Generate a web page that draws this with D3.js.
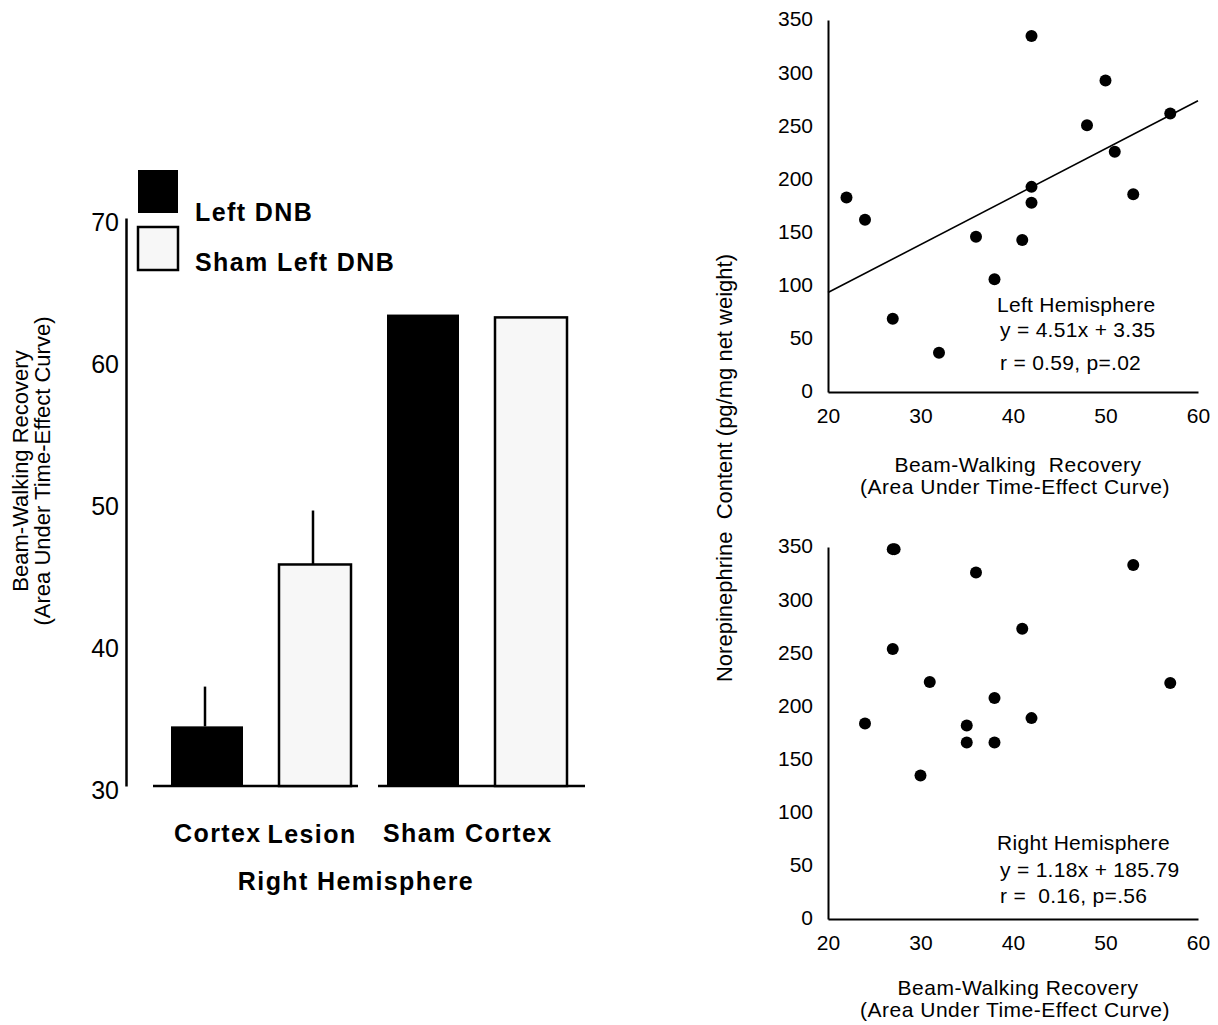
<!DOCTYPE html>
<html>
<head>
<meta charset="utf-8">
<script src="https://cdn.jsdelivr.net/npm/d3@7"></script>
<style>
  body { margin: 0; background: #fff; }
  svg text { font-family: "Liberation Sans", Arial, Helvetica, sans-serif; fill: #000; }
</style>
</head>
<body>
<div id="chart"></div>
<script>
// bar chart data
const barGroups = ["Cortex Lesion", "Sham Cortex"];
const barSeries = ["Left DNB", "Sham Left DNB"];
const barMeans = [34.2, 45.6, 63.2, 63.0];
const barErrors = [2.8, 3.8, 0, 0];
const barTicks = [30, 40, 50, 60, 70];

// scatter data
const leftX = [22, 24, 27, 32, 36, 38, 41, 42, 42, 42, 48, 50, 51, 53, 57];
const leftY = [183, 162, 69, 37, 146, 106, 143, 335, 193, 178, 251, 293, 226, 186, 262];
const rightX = [24, 27, 27.2, 27, 30, 31, 35, 35, 36, 38, 38, 41, 42, 53, 57];
const rightY = [184, 348, 348, 254, 135, 223, 182, 166, 326, 208, 166, 273, 189, 333, 222];
const leftFit = [4.51, 3.35];
const leftNotes = ["Left Hemisphere", "y = 4.51x + 3.35", "r = 0.59, p=.02"];
const rightNotes = ["Right Hemisphere", "y = 1.18x + 185.79", "r =  0.16, p=.56"];
const scatterXTicks = [20, 30, 40, 50, 60];
const scatterYTicks = [0, 50, 100, 150, 200, 250, 300, 350];
const xTitles = [["Beam-Walking  Recovery", "(Area Under Time-Effect Curve)"],
                 ["Beam-Walking Recovery", "(Area Under Time-Effect Curve)"]];

const width = 1218, height = 1025;
const svg = d3.select("#chart").append("svg")
    .attr("width", width)
    .attr("height", height);

// ---------- bar chart ----------
const barKeys = d3.range(barMeans.length);
const xBar = d3.scaleBand()
    .domain(barKeys)
    .range([153, 585])
    .paddingInner(1 / 3)
    .paddingOuter(1 / 6);
const yBar = d3.scaleLinear().domain([30, 70]).range([786, 218]);

const yAxisBar = svg.append("g")
    .attr("transform", "translate(126,0)")
    .call(d3.axisLeft(yBar).tickValues(barTicks).tickSize(0).tickPadding(7));
yAxisBar.select(".domain").attr("stroke", "#000").attr("stroke-width", 2.5);
yAxisBar.selectAll("text")
    .attr("dy", "0.48em")
    .style("font-size", "25px")
    .style("font-family", "'Liberation Sans', Arial, sans-serif");

// group baselines
barGroups.forEach((g, i) => {
    const first = xBar(i * 2), last = xBar(i * 2 + 1) + xBar.bandwidth();
    const x0 = i === 0 ? xBar.range()[0] : first - 9;
    const x1 = i === 0 ? last + 7 : xBar.range()[1];
    svg.append("line")
        .attr("x1", x0).attr("x2", x1)
        .attr("y1", yBar(30)).attr("y2", yBar(30))
        .attr("stroke", "#000").attr("stroke-width", 2.5);
});

svg.selectAll(".bar")
    .data(barKeys)
    .enter()
    .append("rect")
    .attr("class", "bar")
    .attr("x", d => xBar(d))
    .attr("y", d => yBar(barMeans[d]))
    .attr("width", xBar.bandwidth())
    .attr("height", d => yBar(30) - yBar(barMeans[d]))
    .attr("fill", d => d % 2 === 0 ? "#000" : "#f7f7f7")
    .attr("stroke", "#000")
    .attr("stroke-width", d => d % 2 === 0 ? 0 : 2.5);

svg.selectAll(".err")
    .data(barKeys.filter(d => barErrors[d] > 0))
    .enter()
    .append("line")
    .attr("class", "err")
    .attr("x1", d => xBar(d) + xBar.bandwidth() / 2 - 2)
    .attr("x2", d => xBar(d) + xBar.bandwidth() / 2 - 2)
    .attr("y1", d => yBar(barMeans[d]))
    .attr("y2", d => yBar(barMeans[d] + barErrors[d]))
    .attr("stroke", "#000")
    .attr("stroke-width", 2.5);

// legend
barSeries.forEach((s, i) => {
    svg.append("rect")
        .attr("x", 138).attr("y", 170 + i * 57)
        .attr("width", 40).attr("height", 43)
        .attr("fill", i === 0 ? "#000" : "#f7f7f7")
        .attr("stroke", "#000")
        .attr("stroke-width", i === 0 ? 0 : 2.5);
    svg.append("text")
        .attr("x", 195).attr("y", 221 + i * 50)
        .style("font-size", "25px")
        .style("font-weight", "bold")
        .attr("letter-spacing", 1.4)
        .text(s);
});

// group labels
const groupText = svg.append("text")
    .attr("x", xBar(0) + 3).attr("y", 842)
    .style("font-size", "25px")
    .style("font-weight", "bold")
    .attr("letter-spacing", 1.4);
groupText.append("tspan").text("Cortex");
groupText.append("tspan").attr("dx", 6).attr("dy", 1).text("Lesion");
svg.append("text")
    .attr("x", xBar(2) - 4).attr("y", 842)
    .style("font-size", "25px")
    .style("font-weight", "bold")
    .attr("letter-spacing", 1.4)
    .text(barGroups[1]);
svg.append("text")
    .attr("x", 356).attr("y", 890)
    .attr("text-anchor", "middle")
    .style("font-size", "25px")
    .style("font-weight", "bold")
    .attr("letter-spacing", 1.4)
    .text("Right Hemisphere");

// bar y label
const barYLabel = svg.append("text")
    .attr("transform", "translate(28,471) rotate(-90)")
    .attr("text-anchor", "middle")
    .style("font-size", "22px");
barYLabel.append("tspan").attr("x", 0).attr("y", 0).text("Beam-Walking Recovery");
barYLabel.append("tspan").attr("x", 0).attr("y", 22).text("(Area Under Time-Effect Curve)");

// ---------- scatter plots ----------
function scatter(xs, ys, top, bottom, fit) {
    const x = d3.scaleLinear().domain([20, 60]).range([828, 1198]);
    const y = d3.scaleLinear().domain([0, 350]).range([bottom, top]);

    const gx = svg.append("g")
        .attr("transform", `translate(0,${bottom})`)
        .call(d3.axisBottom(x).tickValues(scatterXTicks).tickSize(0).tickPadding(16).tickSizeOuter(0));
    const gy = svg.append("g")
        .attr("transform", "translate(828,0)")
        .call(d3.axisLeft(y).tickValues(scatterYTicks).tickSize(0).tickPadding(15).tickSizeOuter(0));
    [gx, gy].forEach(g => {
        g.select(".domain").attr("stroke", "#000").attr("stroke-width", 2);
        g.selectAll("text")
            .style("font-size", "21px")
            .style("font-family", "'Liberation Sans', Arial, sans-serif");
    });
    gy.selectAll("text").attr("dy", "0.28em");

    if (fit) {
        svg.append("line")
            .attr("x1", x(20)).attr("x2", x(60))
            .attr("y1", y(fit[0] * 20 + fit[1]))
            .attr("y2", y(fit[0] * 60 + fit[1]))
            .attr("stroke", "#000")
            .attr("stroke-width", 1.6);
    }

    svg.append("g")
        .selectAll("circle")
        .data(xs.map((v, i) => [v, ys[i]]))
        .enter()
        .append("circle")
        .attr("cx", d => x(d[0]))
        .attr("cy", d => y(d[1]))
        .attr("r", 6)
        .attr("fill", "#000");
}

scatter(leftX, leftY, 20, 392, leftFit);
scatter(rightX, rightY, 547, 919, null);

function notes(lines, ys) {
    lines.forEach((t, i) => {
        svg.append("text")
            .attr("x", i === 0 ? 997 : 1000)
            .attr("y", ys[i])
            .style("font-size", "21px")
            .style("white-space", "pre")
            .attr("letter-spacing", 0.3)
            .text(t);
    });
}
notes(leftNotes, [312, 337, 370]);
notes(rightNotes, [850, 877, 903]);

// x titles
[[472, 494], [995, 1017]].forEach((ys, k) => {
    xTitles[k].forEach((t, i) => {
        svg.append("text")
            .attr("x", i === 0 ? 1018 : 1015).attr("y", ys[i])
            .attr("text-anchor", "middle")
            .style("font-size", "21px")
            .style("white-space", "pre")
            .attr("letter-spacing", 0.5)
            .text(t);
    });
});

// shared y title
svg.append("text")
    .attr("transform", "translate(732,468) rotate(-90)")
    .attr("text-anchor", "middle")
    .style("font-size", "22px")
    .style("white-space", "pre")
    .text("Norepinephrine  Content (pg/mg net weight)");
</script>
</body>
</html>
